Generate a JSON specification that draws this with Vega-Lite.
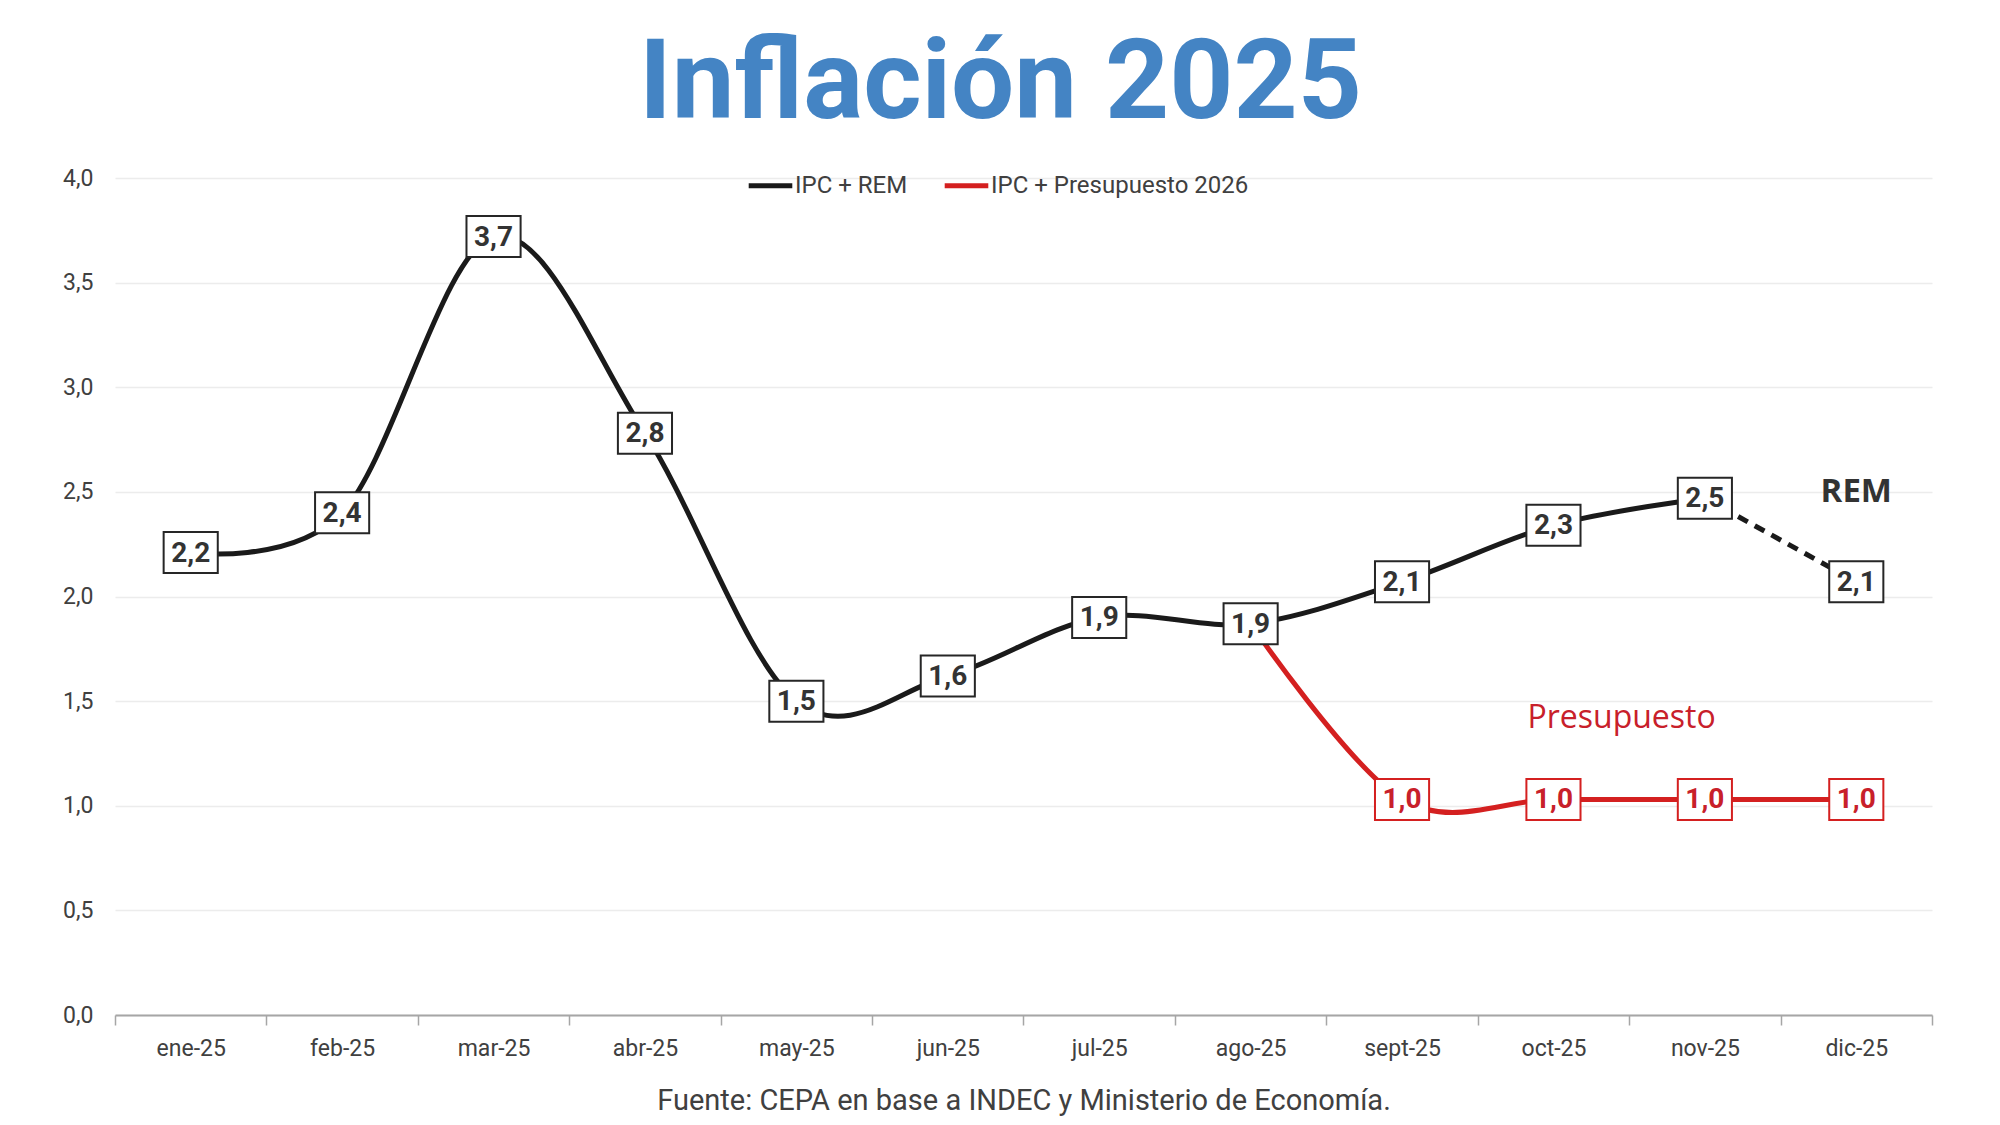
{
  "$schema": "https://vega.github.io/schema/vega-lite/v6.json",
  "autosize": {"type": "none"},
  "width": 1817,
  "height": 837,
  "padding": {"left": 115, "top": 178, "right": 68, "bottom": 110},
  "background": "white",
  "title": {
    "text": "Inflación 2025",
    "font": "Roboto",
    "fontWeight": "bold",
    "fontSize": 112,
    "color": "#4484c4",
    "anchor": "middle",
    "offset": 19,
    "dx": -23
  },
  "config": {
    "view": {"stroke": null},
    "font": "Roboto",
    "axis": {
      "labelFont": "Roboto",
      "labelFontSize": 23,
      "labelColor": "#404040",
      "titleFont": "Roboto",
      "titleFontWeight": "normal"
    }
  },
  "data": {
    "values": [
      {"mes": "ene-25", "serie": "IPC + REM", "valor": 2.21, "etiqueta": "2,2", "tramo": "real"},
      {"mes": "feb-25", "serie": "IPC + REM", "valor": 2.4, "etiqueta": "2,4", "tramo": "real"},
      {"mes": "mar-25", "serie": "IPC + REM", "valor": 3.72, "etiqueta": "3,7", "tramo": "real"},
      {"mes": "abr-25", "serie": "IPC + REM", "valor": 2.78, "etiqueta": "2,8", "tramo": "real"},
      {"mes": "may-25", "serie": "IPC + REM", "valor": 1.5, "etiqueta": "1,5", "tramo": "real"},
      {"mes": "jun-25", "serie": "IPC + REM", "valor": 1.62, "etiqueta": "1,6", "tramo": "real"},
      {"mes": "jul-25", "serie": "IPC + REM", "valor": 1.9, "etiqueta": "1,9", "tramo": "real"},
      {"mes": "ago-25", "serie": "IPC + REM", "valor": 1.87, "etiqueta": "1,9", "tramo": "real"},
      {"mes": "sept-25", "serie": "IPC + REM", "valor": 2.07, "etiqueta": "2,1", "tramo": "real"},
      {"mes": "oct-25", "serie": "IPC + REM", "valor": 2.34, "etiqueta": "2,3", "tramo": "real"},
      {"mes": "nov-25", "serie": "IPC + REM", "valor": 2.47, "etiqueta": "2,5", "tramo": "real"},
      {"mes": "dic-25", "serie": "IPC + REM", "valor": 2.07, "etiqueta": "2,1", "tramo": "rem"},
      {"mes": "ago-25", "serie": "IPC + Presupuesto 2026", "valor": 1.87, "etiqueta": "", "tramo": "real"},
      {"mes": "sept-25", "serie": "IPC + Presupuesto 2026", "valor": 1.03, "etiqueta": "1,0", "tramo": "pres"},
      {"mes": "oct-25", "serie": "IPC + Presupuesto 2026", "valor": 1.03, "etiqueta": "1,0", "tramo": "pres"},
      {"mes": "nov-25", "serie": "IPC + Presupuesto 2026", "valor": 1.03, "etiqueta": "1,0", "tramo": "pres"},
      {"mes": "dic-25", "serie": "IPC + Presupuesto 2026", "valor": 1.03, "etiqueta": "1,0", "tramo": "pres"}
    ]
  },
  "encoding": {
    "x": {
      "field": "mes",
      "type": "nominal",
      "scale": {
        "type": "band",
        "paddingInner": 0,
        "paddingOuter": 0,
        "domain": ["ene-25", "feb-25", "mar-25", "abr-25", "may-25", "jun-25", "jul-25", "ago-25", "sept-25", "oct-25", "nov-25", "dic-25"]
      },
      "axis": {
        "title": "Fuente: CEPA en base a INDEC y Ministerio de Economía.",
        "titleFontSize": 29,
        "titleColor": "#404040",
        "titlePadding": 26,
        "labelAngle": 0,
        "labelPadding": 12,
        "tickBand": "extent",
        "domainColor": "#a6a6a6",
        "domainWidth": 2,
        "tickColor": "#a6a6a6",
        "tickWidth": 1.5,
        "tickSize": 10,
        "grid": false
      }
    },
    "y": {
      "field": "valor",
      "type": "quantitative",
      "scale": {"domain": [0, 4], "nice": false},
      "axis": {
        "title": null,
        "values": [0, 0.5, 1, 1.5, 2, 2.5, 3, 3.5, 4],
        "labelExpr": "replace(format(datum.value, '.1f'), '.', ',')",
        "domain": false,
        "ticks": false,
        "labelPadding": 22,
        "gridColor": "#ececec",
        "gridWidth": 1.5
      }
    }
  },
  "layer": [
    {
      "transform": [{"filter": "datum.serie == 'IPC + REM' && datum.tramo == 'real'"}],
      "mark": {"type": "line", "interpolate": "cardinal", "strokeWidth": 5, "strokeCap": "round"},
      "encoding": {
        "color": {
          "field": "serie",
          "type": "nominal",
          "scale": {"domain": ["IPC + REM", "IPC + Presupuesto 2026"], "range": ["#1a1a1a", "#d42020"]},
          "legend": {
            "title": null,
            "orient": "none",
            "legendX": 631,
            "legendY": -17,
            "direction": "horizontal",
            "symbolType": "stroke",
            "symbolSize": 1900,
            "symbolStrokeWidth": 5,
            "labelFont": "Roboto",
            "labelFontSize": 24,
            "labelColor": "#404040",
            "labelLimit": 500,
            "labelOffset": 0,
            "columnPadding": 26
          }
        }
      }
    },
    {
      "transform": [{"filter": "datum.serie == 'IPC + REM' && (datum.mes == 'nov-25' || datum.mes == 'dic-25')"}],
      "mark": {"type": "line", "interpolate": "cardinal", "strokeWidth": 5, "strokeDash": [11, 8]},
      "encoding": {"color": {"field": "serie", "type": "nominal"}}
    },
    {
      "transform": [{"filter": "datum.serie == 'IPC + Presupuesto 2026'"}],
      "mark": {"type": "line", "interpolate": "cardinal", "strokeWidth": 5, "strokeCap": "round"},
      "encoding": {"color": {"field": "serie", "type": "nominal"}}
    },
    {
      "transform": [{"filter": "datum.etiqueta != ''"}],
      "mark": {
        "type": "point",
        "shape": "M-1.32,-1L1.32,-1L1.32,1L-1.32,1Z",
        "size": 1681,
        "filled": false,
        "fill": "white",
        "fillOpacity": 1,
        "opacity": 1,
        "strokeWidth": 2
      },
      "encoding": {
        "stroke": {
          "field": "serie",
          "type": "nominal",
          "scale": {"domain": ["IPC + REM", "IPC + Presupuesto 2026"], "range": ["#262626", "#d42020"]},
          "legend": null
        }
      }
    },
    {
      "transform": [{"filter": "datum.etiqueta != ''"}],
      "mark": {"type": "text", "font": "Roboto", "fontWeight": "bold", "fontSize": 28, "baseline": "middle", "dy": 1},
      "encoding": {
        "text": {"field": "etiqueta"},
        "fill": {
          "field": "serie",
          "type": "nominal",
          "scale": {"domain": ["IPC + REM", "IPC + Presupuesto 2026"], "range": ["#333333", "#c8202a"]},
          "legend": null
        }
      }
    },
    {
      "data": {"values": [{"mes": "dic-25", "valor": 2.5, "texto": "REM"}]},
      "mark": {"type": "text", "font": "Open Sans", "fontWeight": "bold", "fontSize": 33, "color": "#333333", "baseline": "middle"},
      "encoding": {"text": {"field": "texto"}}
    },
    {
      "data": {"values": [{"mes": "oct-25", "valor": 1.42, "texto": "Presupuesto"}]},
      "mark": {"type": "text", "font": "Open Sans", "fontSize": 32, "color": "#c8202a", "baseline": "middle"},
      "encoding": {
        "x": {"field": "mes", "type": "nominal", "bandPosition": 0.95},
        "text": {"field": "texto"}
      }
    }
  ]
}
